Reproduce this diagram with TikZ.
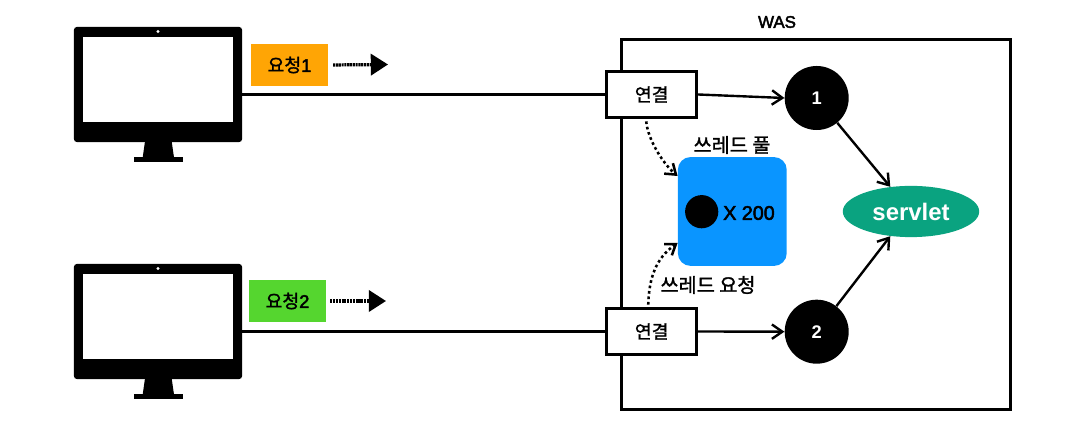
\documentclass[tikz,border=0pt]{standalone}
\usepackage{fontspec}
\setmainfont{Liberation Sans}
\newfontfamily\krfont[FakeBold=1.4]{Noto Sans CJK KR}
\newfontfamily\medfont[FakeBold=2.6]{Liberation Sans}
\usepackage{xcolor}
\usetikzlibrary{arrows.meta,positioning,backgrounds,shapes.geometric}

\definecolor{reqorange}{HTML}{FFA505}
\definecolor{reqgreen}{HTML}{55D62F}
\definecolor{poolblue}{HTML}{0A95FF}
\definecolor{servletgreen}{HTML}{0AA380}

\begin{document}
\begin{tikzpicture}[x=0.025cm, y=-0.025cm,
  %% -- Node styles: one unit is one pixel of the reference --------------------
  pcbody/.style={fill=black, rounded corners=2pt, minimum width=4.2cm, minimum height=2.875cm, inner sep=0pt},
  pcscreen/.style={fill=white, minimum width=3.73cm, minimum height=2.12cm, inner sep=0pt},
  pcbase/.style={fill=black, minimum width=1.215cm, minimum height=0.14cm, inner sep=0pt},
  pcdot/.style={circle, fill=white, minimum size=0.08cm, inner sep=0pt},
  req/.style={minimum width=1.925cm, minimum height=1.06cm, inner sep=0pt, font=\medfont\fontsize{13}{15}\selectfont},
  conn/.style={draw=black, line width=2.1pt, fill=white, minimum width=2.25cm, minimum height=1.17cm,
               inner sep=0pt, font=\krfont\fontsize{13}{15}\selectfont},
  worker/.style={circle, fill=black, minimum size=1.6cm, inner sep=0pt, text=white,
                 font=\bfseries\fontsize{13}{15}\selectfont},
  lbl/.style={inner sep=0pt, font=\krfont\fontsize{14}{16}\selectfont},
  %% -- Arrow styles -----------------------------------------------------------
  arr/.style={-{Straight Barb[length=0.26cm,width=0.36cm]}, line width=1.7pt},
  dotarr/.style={-{Straight Barb[length=0.24cm,width=0.34cm]}, line width=1.8pt, dash pattern=on 1.9pt off 2pt},
  reqarr/.style={-{Triangle[length=0.43cm,width=0.53cm]}, line width=2.3pt, dash pattern=on 1.5pt off 0.5pt},
  plain/.style={line width=1.7pt}
]
\useasboundingbox (0,0) rectangle (1088,444);

%% -- WAS ---------------------------------------------------------------------
\node[draw=black, line width=2.1pt, minimum width=9.7cm, minimum height=9.225cm, inner sep=0pt] (was) at (816,224.5) {};
\node[inner sep=0pt, font=\medfont\fontsize{12}{14}\selectfont] (waslabel) at (777,22) {WAS};

%% -- Monitors ----------------------------------------------------------------
\foreach \nm/\py in {pcA/84.5, pcB/321.5} {
  \node[pcbody] (\nm) at (158,\py) {};
  \node[pcscreen] (\nm screen) at (158,\py-5) {};
  \node[pcdot] (\nm dot) at (158,\py-53) {};
  \fill (145,\py+57) -- (171.7,\py+57) -- (174,\py+73) -- (142.7,\py+73) -- cycle;
  \node[pcbase] (\nm base) at (158.3,\py+75) {};
}

%% -- Requests ----------------------------------------------------------------
\node[req, fill=reqorange] (reqA) at (289.5,65) {{\krfont 요청}1};
\node[req, fill=reqgreen]  (reqB) at (287.5,301) {{\krfont 요청}2};
\coordinate (reqAend) at (388,64.5);
\coordinate (reqBend) at (386,301);

%% -- Connections, workers, servlet -------------------------------------------
\node[conn] (connA) at (651.7,94.5) {연결};
\node[conn] (connB) at (651.7,331.5) {연결};
\node[worker] (one) at (816.7,98) {1};
\node[worker] (two) at (816.7,331.7) {2};
\node[ellipse, fill=servletgreen, minimum width=3.41cm, minimum height=1.28cm, inner sep=0pt,
      text=white, font=\bfseries\fontsize{17}{19}\selectfont] (servlet) at (911,211.5) {servlet};

%% -- Thread pool -------------------------------------------------------------
\node[fill=poolblue, rounded corners=9pt, minimum width=2.72cm, minimum height=2.72cm, inner sep=0pt] (pool) at (732.3,211.5) {};
\node[circle, fill=black, minimum size=0.83cm, inner sep=0pt] (thread) at (701.7,211.7) {};
\node[inner sep=0pt, font=\medfont\fontsize{14}{16}\selectfont] (count) at (749,213) {X 200};
\node[lbl] (poollabel) at (732,145) {쓰레드 풀};
\node[lbl] (asklabel) at (708,285) {쓰레드 요청};

%% -- Arrows ------------------------------------------------------------------
\draw[plain] (pcA.east |- connA.west) -- (connA.west);
\draw[plain] (pcB.east |- connB.west) -- (connB.west);
\draw[reqarr, shorten <=0.12cm] (reqA.east) -- (reqAend);
\draw[reqarr, shorten <=0.1cm] (reqB.east) -- (reqBend);
\draw[arr] (connA.east) -- (one.west);
\draw[arr] (connB.east) -- (two.west);
\draw[arr] (one) -- (servlet.130);
\draw[arr] (two) -- (servlet.230);
\draw[dotarr] (connA.south west) ++(41,2) to[out=275, in=140, looseness=0.75] (pool.west |- 0,176);
\draw[dotarr] (connB.north west) ++(43,-2) to[out=88, in=215] (pool.west |- 0,243);

\end{tikzpicture}
\end{document}
